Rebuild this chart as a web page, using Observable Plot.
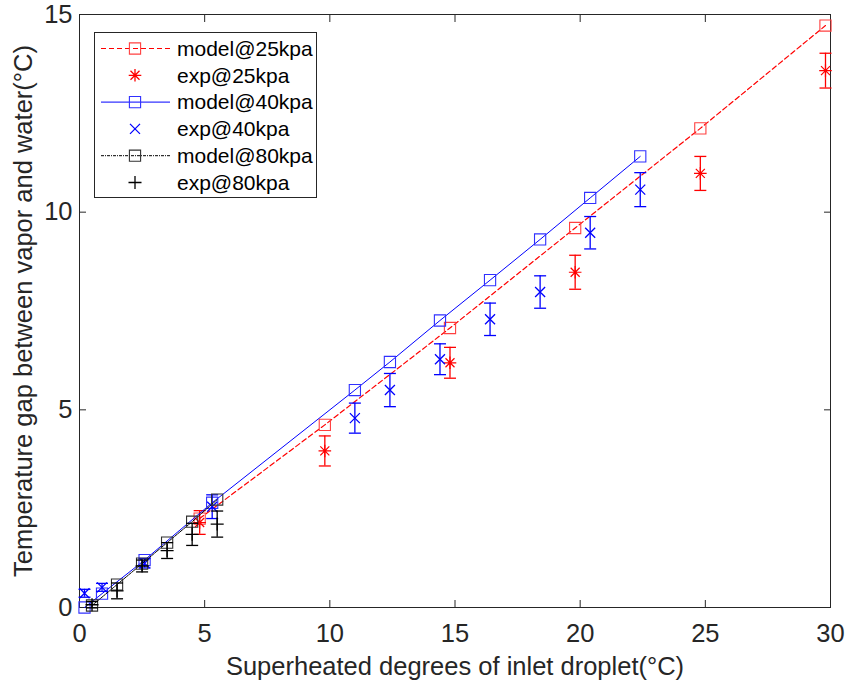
<!DOCTYPE html>
<html><head><meta charset="utf-8">
<script src="https://cdn.jsdelivr.net/npm/d3@7"></script>
<script src="https://cdn.jsdelivr.net/npm/@observablehq/plot@0.6"></script>
<style>body{margin:0;background:#fff}</style>
</head><body><div id="chart"></div>
<script>
// ---- data ----
const x25 = [4.8, 9.8, 14.8, 19.8, 24.8, 29.8];
const model25 = [2.25, 4.62, 7.07, 9.6, 12.12, 14.72];
const exp25 = [2.15, 3.96, 6.19, 8.48, 10.98, 13.58];
const err25 = [0.3, 0.38, 0.39, 0.43, 0.43, 0.44];

const x40 = [0.2, 0.9, 2.6, 5.3, 11, 12.4, 14.4, 16.4, 18.4, 20.4, 22.4];
const model40 = [0.0, 0.35, 1.2, 2.65, 5.5, 6.21, 7.26, 8.28, 9.31, 10.36, 11.41];
const exp40 = [0.36, 0.51, 1.12, 2.55, 4.79, 5.5, 6.28, 7.29, 7.98, 9.48, 10.57];
const err40 = [0.1, 0.1, 0.12, 0.3, 0.38, 0.42, 0.39, 0.41, 0.41, 0.41, 0.43];

const x80 = [0.5, 1.5, 2.5, 3.5, 4.5, 5.5];
const model80 = [0.05, 0.58, 1.11, 1.64, 2.17, 2.73];
const exp80 = [0.07, 0.42, 1.05, 1.44, 1.85, 2.11];
const err80 = [0.08, 0.2, 0.15, 0.2, 0.28, 0.33];

const xTicks = [0, 5, 10, 15, 20, 25, 30];
const yTicks = [0, 5, 10, 15];
const seriesNames = ["model@25kpa", "exp@25kpa", "model@40kpa", "exp@40kpa", "model@80kpa", "exp@80kpa"];

const RED = "#ff0000", BLUE = "#0000ff", BLACK = "#000000", AX = "#262626";
const FONT = "'Liberation Sans', Arial, Helvetica, sans-serif";

const rows = (xs, ys, es) => xs.map((x, i) => ({x, y: ys[i], e: es ? es[i] : 0}));
const m25 = rows(x25, model25), e25 = rows(x25, exp25, err25);
const m40 = rows(x40, model40), e40 = rows(x40, exp40, err40);
const m80 = rows(x80, model80), e80 = rows(x80, exp80, err80);

// custom symbols (MATLAB-like markers)
const cap = {draw(ctx) { ctx.moveTo(-6, 0); ctx.lineTo(6, 0); }};
const star = {draw(ctx) {
  const r = 6.3, d = 4.5;
  ctx.moveTo(-r, 0); ctx.lineTo(r, 0);
  ctx.moveTo(0, -r); ctx.lineTo(0, r);
  ctx.moveTo(-d, -d); ctx.lineTo(d, d);
  ctx.moveTo(-d, d); ctx.lineTo(d, -d);
}};
const cross = {draw(ctx) { const r = 5; ctx.moveTo(-r, -r); ctx.lineTo(r, r); ctx.moveTo(-r, r); ctx.lineTo(r, -r); }};
const plus = {draw(ctx) { const r = 6.5; ctx.moveTo(-r, 0); ctx.lineTo(r, 0); ctx.moveTo(0, -r); ctx.lineTo(0, r); }};
const square = {draw(ctx) { const r = 5.6; ctx.rect(-r, -r, 2 * r, 2 * r); }};

function errMarks(data, color) {
  return [
    Plot.ruleX(data, {x: "x", y1: d => d.y - d.e, y2: d => d.y + d.e, stroke: color, strokeWidth: 1.3}),
    Plot.dot(data, {x: "x", y: d => d.y - d.e, symbol: cap, stroke: color, strokeWidth: 1.3}),
    Plot.dot(data, {x: "x", y: d => d.y + d.e, symbol: cap, stroke: color, strokeWidth: 1.3})
  ];
}

const styles = [
  {kind: "model", color: RED, sq: "#ff4040", dash: "5,3", width: 1.2},
  {kind: "exp", color: RED, symbol: star},
  {kind: "model", color: BLUE, sq: "#3030ff", dash: null, width: 1},
  {kind: "exp", color: BLUE, symbol: cross},
  {kind: "model", color: BLACK, sq: "#303030", dash: "3,1,1,1", width: 1},
  {kind: "exp", color: BLACK, symbol: plus}
];

const chart = Plot.plot({
  width: 847, height: 683,
  marginLeft: 79, marginRight: 17, marginTop: 14, marginBottom: 76,
  style: {fontFamily: FONT, fontSize: "22px", color: AX, background: "#fff"},
  x: {domain: [0, 30]},
  y: {domain: [0, 15]},
  marks: [
    Plot.frame({stroke: AX, strokeWidth: 1}),
    Plot.axisX({anchor: "bottom", ticks: xTicks, tickSize: -7, tickPadding: 23, stroke: AX, fill: AX,
      label: "Superheated degrees of inlet droplet(°C)", labelAnchor: "center", labelArrow: "none", labelOffset: 67,
      fontSize: 25.5}),
    Plot.axisX({anchor: "top", ticks: xTicks, tickSize: -7, tickFormat: () => "", label: null, stroke: AX}),
    Plot.axisY({anchor: "left", ticks: yTicks, tickSize: -7, tickPadding: 14, stroke: AX, fill: AX,
      label: "Temperature gap between vapor and water(°C)", labelAnchor: "center", labelArrow: "none", labelOffset: 66,
      fontSize: 25.5}),
    Plot.axisY({anchor: "right", ticks: yTicks, tickSize: -7, tickFormat: () => "", label: null, stroke: AX}),
    // 25 kPa
    Plot.line(m25, {x: "x", y: "y", stroke: RED, strokeWidth: 1.2, strokeDasharray: "5,3"}),
    Plot.dot(m25, {x: "x", y: "y", symbol: square, stroke: "#ff4040", strokeWidth: 1.1}),
    ...errMarks(e25, RED),
    Plot.dot(e25, {x: "x", y: "y", symbol: star, stroke: RED, strokeWidth: 1.2}),
    // 40 kPa
    Plot.line(m40, {x: "x", y: "y", stroke: BLUE, strokeWidth: 1}),
    Plot.dot(m40, {x: "x", y: "y", symbol: square, stroke: "#3030ff", strokeWidth: 1.1}),
    ...errMarks(e40, BLUE),
    Plot.dot(e40, {x: "x", y: "y", symbol: cross, stroke: BLUE, strokeWidth: 1.3}),
    // 80 kPa
    Plot.line(m80, {x: "x", y: "y", stroke: BLACK, strokeWidth: 1, strokeDasharray: "3,1,1,1"}),
    Plot.dot(m80, {x: "x", y: "y", symbol: square, stroke: "#303030", strokeWidth: 1.1}),
    ...errMarks(e80, BLACK),
    Plot.dot(e80, {x: "x", y: "y", symbol: plus, stroke: BLACK, strokeWidth: 1.3})
  ]
});
document.getElementById("chart").appendChild(chart);

// ---- legend (MATLAB style box) ----
const svg = d3.select(chart);
const lg = svg.append("g").attr("font-family", FONT).attr("font-size", 21)
  .attr("fill", "#000").attr("text-anchor", "start");
lg.append("rect").attr("x", 94.5).attr("y", 32.5).attr("width", 222).attr("height", 165)
  .attr("fill", "#fff").attr("stroke", AX).attr("stroke-width", 1);
const symPath = sym => { const p = d3.path(); sym.draw(p); return p.toString(); };
seriesNames.forEach((name, i) => {
  const s = styles[i];
  const cy = 48.5 + i * 26.8;
  if (s.kind === "model") {
    lg.append("line").attr("x1", 101).attr("x2", 170).attr("y1", cy).attr("y2", cy)
      .attr("stroke", s.color).attr("stroke-width", s.width).attr("stroke-dasharray", s.dash);
    lg.append("path").attr("transform", `translate(135,${cy})`).attr("d", symPath(square))
      .attr("fill", "none").attr("stroke", s.sq).attr("stroke-width", 1.1);
  } else {
    lg.append("path").attr("transform", `translate(135,${cy})`).attr("d", symPath(s.symbol))
      .attr("fill", "none").attr("stroke", s.color).attr("stroke-width", 1.3);
  }
  lg.append("text").attr("x", 177).attr("y", cy).attr("dy", "0.35em").text(name);
});
</script>
</body></html>
